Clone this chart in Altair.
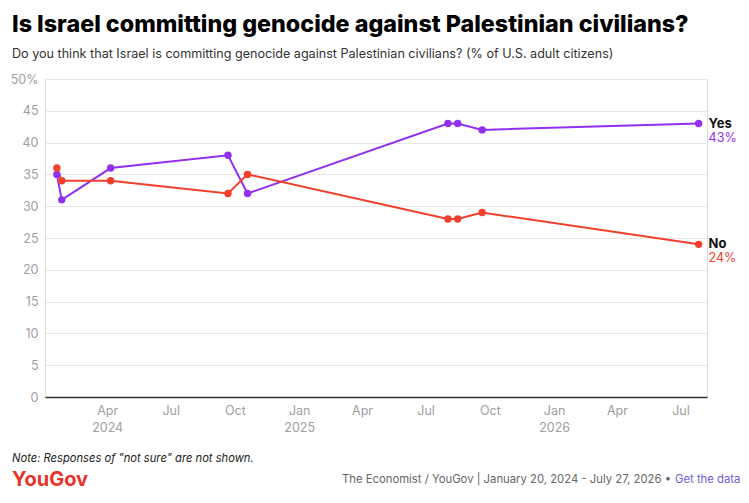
import altair as alt
import pandas as pd

# ---- data ----
dates = ["2024-01-20", "2024-01-27", "2024-04-06", "2024-09-21", "2024-10-19",
         "2025-08-02", "2025-08-16", "2025-09-20", "2026-07-27"]
yes_vals = [35, 31, 36, 38, 32, 43, 43, 42, 43]
no_vals = [36, 34, 34, 32, 35, 28, 28, 29, 24]
series_names = ["Yes", "No"]
series_colors = ["#9130ef", "#f2402c"]

tick_months = [(2024, 4), (2024, 7), (2024, 10), (2025, 1), (2025, 4), (2025, 7),
               (2025, 10), (2026, 1), (2026, 4), (2026, 7)]
y_ticks = [0, 5, 10, 15, 20, 25, 30, 35, 40, 45, 50]

title_text = "Is Israel committing genocide against Palestinian civilians?"
subtitle_text = "Do you think that Israel is committing genocide against Palestinian civilians? (% of U.S. adult citizens)"
note_text = ['Note: Responses of "not sure" are not shown.']
logo_text = ["YouGov"]
source_text = ["The Economist / YouGov | January 20, 2024 - July 27, 2026 \u2022"]
link_text = ["Get the data"]

FONT = "Inter"

rows = []
for d, y, n in zip(dates, yes_vals, no_vals):
    rows.append({"date": pd.Timestamp(d), "series": "Yes", "value": y})
    rows.append({"date": pd.Timestamp(d), "series": "No", "value": n})
df = pd.DataFrame(rows)
last = df[df["date"] == df["date"].max()].copy()
last["pct"] = last["value"].astype(int).astype(str) + "%"

color_scale = alt.Scale(domain=series_names, range=series_colors)
x_scale = alt.Scale(domain=[alt.DateTime(year=2024, month=1, date=3),
                            alt.DateTime(year=2026, month=8, date=8)])
y_scale = alt.Scale(domain=[0, 50], nice=False)

x_axis = alt.Axis(
    title=None, grid=False, ticks=False,
    values=[alt.DateTime(year=yy, month=mm, date=1) for yy, mm in tick_months],
    labelExpr="(month(datum.value)==0 || (year(datum.value)==2024 && month(datum.value)==3)) ? [timeFormat(datum.value, '%b'), timeFormat(datum.value, '%Y')] : timeFormat(datum.value, '%b')",
    labelColor="#a0a0a0", labelFontSize=12.5, labelFont=FONT, labelPadding=7,
    labelLineHeight=17, domainColor="#333333", domainWidth=1.5, labelOverlap=False,
)
y_axis = alt.Axis(
    title=None, values=y_ticks, domain=False, ticks=False,
    labelExpr="datum.value == 50 ? '50%' : datum.label",
    labelColor="#a0a0a0", labelFontSize=12.5, labelFont=FONT, labelPadding=7,
    gridColor="#e6e6e6", gridWidth=1, labelOverlap=False,
)

X = alt.X("date:T", scale=x_scale, axis=x_axis)
Y = alt.Y("value:Q", scale=y_scale, axis=y_axis)
C = alt.Color("series:N", scale=color_scale, legend=None)

base = alt.Chart(df)
lines = base.mark_line(strokeWidth=2).encode(x=X, y=Y, color=C, detail="series:N")
points = base.mark_circle(size=55, opacity=1).encode(x=X, y=Y, color=C)
end_name = alt.Chart(last).mark_text(
    align="left", baseline="middle", dx=10, dy=0, font=FONT,
    fontSize=13, fontWeight="bold", color="#111111"
).encode(x=X, y=Y, text="series:N")
end_pct = alt.Chart(last).mark_text(
    align="left", baseline="middle", dx=10, dy=14, font=FONT, fontSize=12.5
).encode(x=X, y=Y, text="pct:N", color=C)

note = alt.Chart(pd.DataFrame({"t": note_text})).mark_text(
    align="left", baseline="middle", font=FONT, fontSize=11.2, fontStyle="italic", color="#222222"
).encode(x=alt.value(-33), y=alt.value(380), text="t:N")
logo = alt.Chart(pd.DataFrame({"t": logo_text})).mark_text(
    align="left", baseline="middle", font=FONT, fontSize=20, fontWeight="bold", color="#e8342a"
).encode(x=alt.value(-33), y=alt.value(401), text="t:N")
source = alt.Chart(pd.DataFrame({"t": source_text})).mark_text(
    align="right", baseline="middle", font=FONT, fontSize=11.3, color="#666666"
).encode(x=alt.value(626), y=alt.value(401), text="t:N")
link = alt.Chart(pd.DataFrame({"t": link_text})).mark_text(
    align="left", baseline="middle", font=FONT, fontSize=11.3, color="#6b5fd6"
).encode(x=alt.value(630), y=alt.value(401), text="t:N")

chart = alt.layer(lines, points, end_name, end_pct, note, logo, source, link).properties(
    width=662, height=318,
    autosize=alt.AutoSizeParams(type="none"),
    padding={"left": 37, "top": 71, "right": 34, "bottom": 98},
    title=alt.TitleParams(
        text=title_text, subtitle=subtitle_text, anchor="start", frame="group",
        dx=-33, offset=11, font=FONT, fontSize=23.3, fontWeight=800, color="#000000",
        subtitleFont=FONT, subtitleFontSize=12.6, subtitleColor="#333333", subtitlePadding=11,
    ),
).configure_view(stroke=None).configure(background="white")

chart.save("out.html", embed_options={"renderer": "svg", "actions": False})
